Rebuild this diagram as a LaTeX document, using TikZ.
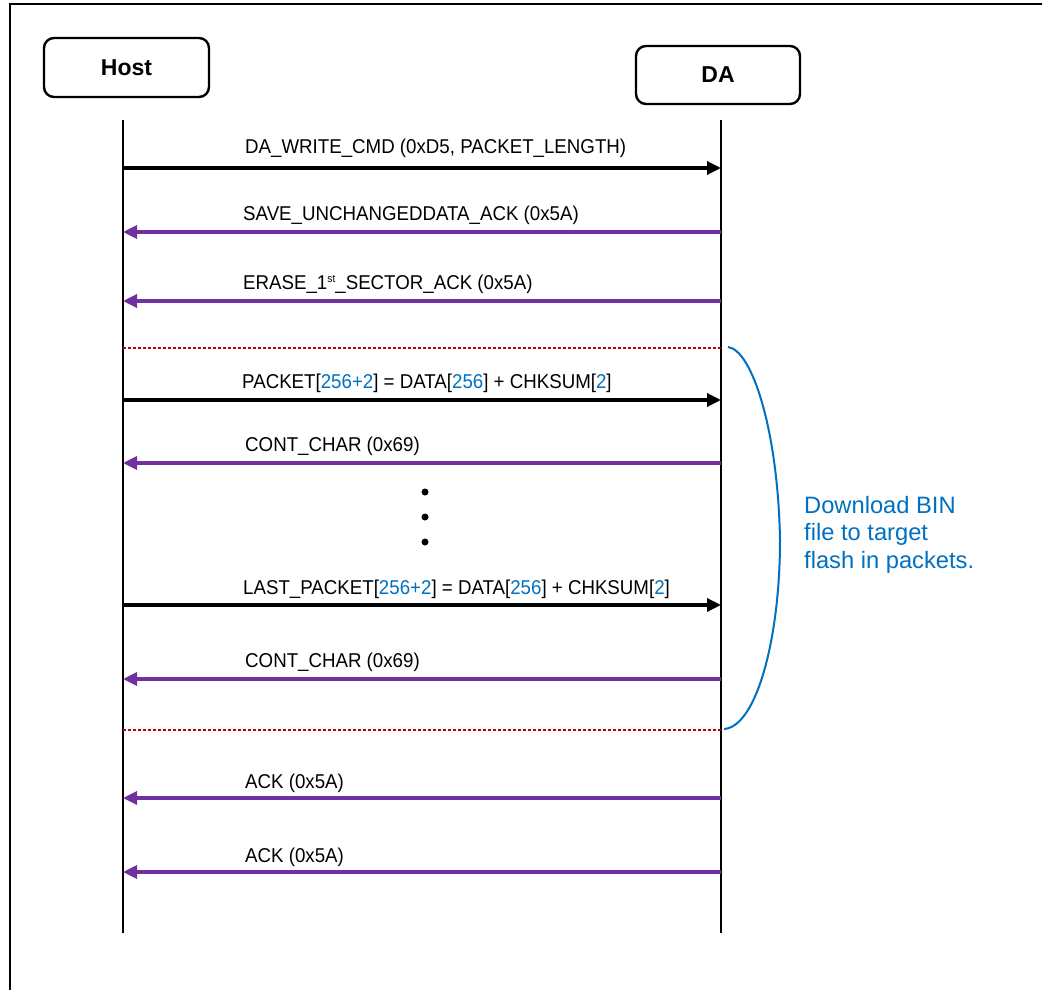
\documentclass[tikz,border=0pt]{standalone}
\usepackage{fontspec}
\setmainfont{Liberation Sans}
\usetikzlibrary{arrows.meta}
\definecolor{msgpurple}{HTML}{7030A0}
\definecolor{noteblue}{HTML}{0070C0}
\definecolor{sepred}{HTML}{C00000}
\newcommand{\nb}[1]{\textcolor{noteblue}{#1}}
\newcommand{\lbl}[1]{\scalebox{0.935}[1]{#1}}
\newcommand{\smallsup}[1]{\raisebox{7pt}{\fontsize{11}{11}\selectfont #1}}
\begin{document}
\begin{tikzpicture}[x=1pt,y=-1pt,
  actor/.style={draw, line width=2.4pt, rounded corners=10pt, font=\fontsize{23}{27}\selectfont\bfseries, inner sep=0pt},
  lifeline/.style={line width=2.5pt},
  req/.style={line width=3.3pt, -{Triangle[length=14pt,width=13pt]}},
  rsp/.style={line width=3.3pt, msgpurple, -{Triangle[length=14pt,width=13pt]}},
  sepline/.style={sepred, line width=2.5pt, dash pattern=on 2.5pt off 2.5pt},
  msg/.style={anchor=base west, inner sep=0pt, font=\fontsize{20}{24}\selectfont},
  dotmark/.style={fill=black},
]
\useasboundingbox (0,0) rectangle (1042,990);
\draw[line width=2pt] (10,992) -- (10,4) -- (1044,4);

\node[actor, minimum width=165pt, minimum height=59pt] (host) at (126.5,67.5) {Host};
\node[actor, minimum width=164pt, minimum height=58pt] (da) at (718,75) {DA};

\coordinate (htop) at (123,120);
\coordinate (hbot) at (123,933);
\coordinate (dtop) at (721,120);
\coordinate (dbot) at (721,933);
\draw[lifeline] (htop) -- (hbot);
\draw[lifeline] (dtop) -- (dbot);

\foreach \i/\y in {1/168,2/232,3/301,4/400,5/463,6/605,7/679,8/798,9/872,s1/348,s2/730}{
  \coordinate (h\i) at (123,\y);
  \coordinate (d\i) at (721,\y);
}

\draw[sepline] (hs1) -- (ds1);
\draw[sepline] (hs2) -- (ds2);

\draw[req] (h1) -- (d1);
\node[msg] (m1) at (245,153) {\lbl{DA\_WRITE\_CMD (0xD5, PACKET\_LENGTH)}};
\draw[rsp] (d2) -- (h2);
\node[msg] (m2) at (243,220) {\lbl{SAVE\_UNCHANGEDDATA\_ACK (0x5A)}};
\draw[rsp] (d3) -- (h3);
\node[msg] (m3) at (243,289) {\lbl{ERASE\_1\smallsup{st}\_SECTOR\_ACK (0x5A)}};
\draw[req] (h4) -- (d4);
\node[msg] (m4) at (242,388) {\lbl{PACKET[\nb{256+2}] = DATA[\nb{256}] + CHKSUM[\nb{2}]}};
\draw[rsp] (d5) -- (h5);
\node[msg] (m5) at (245,451) {\lbl{CONT\_CHAR (0x69)}};
\draw[req] (h6) -- (d6);
\node[msg] (m6) at (243,594) {\lbl{LAST\_PACKET[\nb{256+2}] = DATA[\nb{256}] + CHKSUM[\nb{2}]}};
\draw[rsp] (d7) -- (h7);
\node[msg] (m7) at (245,667) {\lbl{CONT\_CHAR (0x69)}};
\draw[rsp] (d8) -- (h8);
\node[msg] (m8) at (245,788) {\lbl{ACK (0x5A)}};
\draw[rsp] (d9) -- (h9);
\node[msg] (m9) at (245,862) {\lbl{ACK (0x5A)}};

\fill[dotmark] (425,492) circle (3.5pt);
\fill[dotmark] (425,517) circle (3.5pt);
\fill[dotmark] (425,542) circle (3.5pt);

\draw[noteblue, line width=2pt] (728,347) .. controls (752,350) and (778,430) .. (780,540) .. controls (780,640) and (756,727) .. (724,729);
\node[anchor=north west, inner sep=0pt, align=left, text=noteblue, font=\fontsize{23.7}{27.5}\selectfont] (note) at (804,496) {Download BIN\\file to target\\flash in packets.};
\end{tikzpicture}
\end{document}
